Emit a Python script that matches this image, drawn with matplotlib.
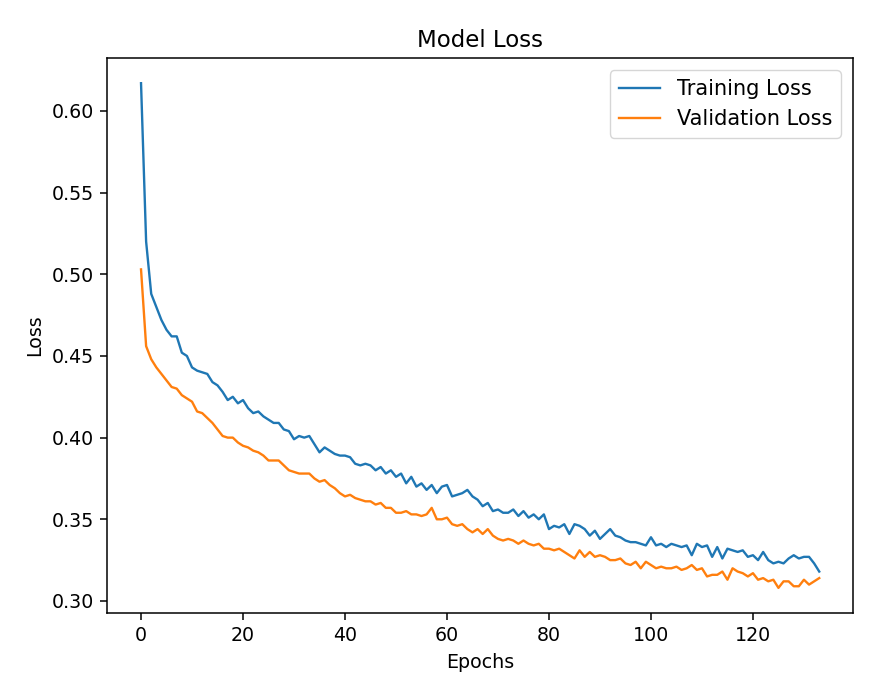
import matplotlib
matplotlib.use("Agg")
import matplotlib.pyplot as plt

train_loss = [0.617, 0.52, 0.488, 0.48, 0.472, 0.466, 0.462, 0.462, 0.452, 0.450, 0.443,
 0.441, 0.440, 0.439, 0.434, 0.432, 0.428, 0.423, 0.425, 0.421, 0.423,
 0.418, 0.415, 0.416, 0.413, 0.411, 0.409, 0.409, 0.405, 0.404, 0.399,
 0.401, 0.400, 0.401, 0.396, 0.391, 0.394, 0.392, 0.390, 0.389, 0.389,
 0.388, 0.384, 0.383, 0.384, 0.383, 0.380, 0.382, 0.378, 0.380, 0.376,
 0.378, 0.372, 0.376, 0.370, 0.372, 0.368, 0.371, 0.366, 0.370, 0.371,
 0.364, 0.365, 0.366, 0.368, 0.364, 0.362, 0.358, 0.360, 0.355, 0.356,
 0.354, 0.354, 0.356, 0.352, 0.355, 0.351, 0.353, 0.350, 0.353, 0.344,
 0.346, 0.345, 0.347, 0.341, 0.347, 0.346, 0.344, 0.340, 0.343, 0.338,
 0.341, 0.344, 0.340, 0.339, 0.337, 0.336, 0.336, 0.335, 0.334, 0.339,
 0.334, 0.335, 0.333, 0.335, 0.334, 0.333, 0.334, 0.328, 0.335, 0.333,
 0.334, 0.327, 0.333, 0.326, 0.332, 0.331, 0.330, 0.331, 0.327, 0.328,
 0.325, 0.330, 0.325, 0.323, 0.324, 0.323, 0.326, 0.328, 0.326, 0.327,
 0.327, 0.323, 0.318]

val_loss = [0.503, 0.456, 0.448, 0.443, 0.439, 0.435, 0.431, 0.430, 0.426, 0.424,
 0.422, 0.416, 0.415, 0.412, 0.409, 0.405, 0.401, 0.400, 0.400, 0.397,
 0.395, 0.394, 0.392, 0.391, 0.389, 0.386, 0.386, 0.386, 0.383, 0.380,
 0.379, 0.378, 0.378, 0.378, 0.375, 0.373, 0.374, 0.371, 0.369, 0.366,
 0.364, 0.365, 0.363, 0.362, 0.361, 0.361, 0.359, 0.360, 0.357, 0.357,
 0.354, 0.354, 0.355, 0.353, 0.353, 0.352, 0.353, 0.357, 0.350, 0.350,
 0.351, 0.347, 0.346, 0.347, 0.344, 0.342, 0.344, 0.341, 0.344, 0.340,
 0.338, 0.337, 0.338, 0.337, 0.335, 0.337, 0.335, 0.334, 0.335, 0.332,
 0.332, 0.331, 0.332, 0.330, 0.328, 0.326, 0.331, 0.327, 0.330, 0.327,
 0.328, 0.327, 0.325, 0.325, 0.326, 0.323, 0.322, 0.324, 0.320, 0.324,
 0.322, 0.320, 0.321, 0.320, 0.320, 0.321, 0.319, 0.320, 0.322, 0.319,
 0.320, 0.315, 0.316, 0.316, 0.318, 0.313, 0.320, 0.318, 0.317, 0.315,
 0.317, 0.313, 0.314, 0.312, 0.313, 0.308, 0.312, 0.312, 0.309, 0.309,
 0.313, 0.310, 0.312, 0.314]

epochs = list(range(len(train_loss)))

s = 1.37
fig = plt.figure(figsize=(8.78, 6.82), dpi=100)
ax = fig.add_axes([0.122, 0.101, 0.8497, 0.814])
ax.plot(epochs, train_loss, label="Training Loss", lw=1.7)
ax.plot(epochs, val_loss, label="Validation Loss", lw=1.7)
ax.set_title("Model Loss", fontsize=12 * s, pad=6 * s)
ax.set_xlabel("Epochs", fontsize=10 * s, labelpad=4 * s)
ax.set_ylabel("Loss", fontsize=10 * s, labelpad=4 * s)
ax.tick_params(labelsize=10 * s, length=3.5 * s, width=0.8 * s, pad=3.5 * s)
for sp in ax.spines.values():
    sp.set_linewidth(0.8 * s)
ax.legend(loc="upper right", fontsize=15, borderaxespad=0.6)
fig.savefig("out.png", dpi=100)
